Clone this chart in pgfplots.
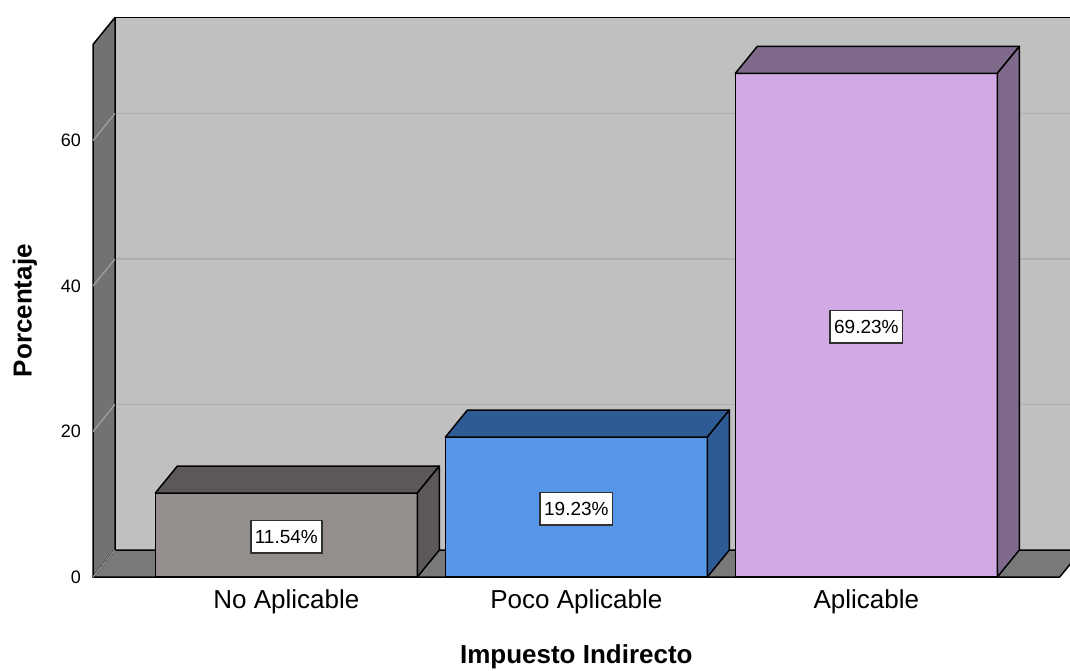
\documentclass[border=0pt]{standalone}
\usepackage{fontspec}
\setmainfont{Liberation Sans}
\usepackage{pgfplots}
\pgfplotsset{compat=1.18}

% wall and bar colours
\definecolor{backwall}{HTML}{C0C0C0}
\definecolor{leftwall}{HTML}{727272}
\definecolor{floorc}{HTML}{797979}
\definecolor{gridc}{HTML}{AEAEAE}
\definecolor{leftgrid}{HTML}{A2A2A2}
\definecolor{grayfront}{HTML}{948F8D}
\definecolor{graydark}{HTML}{5B5857}
\definecolor{bluefront}{HTML}{5597E6}
\definecolor{bluedark}{HTML}{2F5B94}
\definecolor{purpfront}{HTML}{D1A9E4}
\definecolor{purpdark}{HTML}{7F6A8C}
\definecolor{labelframe}{HTML}{303030}

% depth offset of the 3D box
\newcommand{\bk}[2]{([shift={(11pt,13.5pt)}]axis cs:#1,#2)}
\pgfdeclareplotmark{nothing}{}

\pgfplotsset{
  % top and right faces of a bar, drawn from the bar's value
  box3d/.style={
    only marks, scatter, mark=nothing,
    visualization depends on={rawy \as \barv},
    scatter/@pre marker code/.code={
      \pgfmathsetmacro\barh{\barv*3.6375}
      \filldraw[fill=#1, draw=black, line width=0.75pt, line join=round]
        (-65.5pt,0pt) -- (-54.5pt,13.5pt) -- (76.5pt,13.5pt) -- (65.5pt,0pt) -- cycle;
      \filldraw[fill=#1, draw=black, line width=0.75pt, line join=round]
        (65.5pt,0pt) -- (76.5pt,13.5pt) -- (76.5pt,13.5pt-\barh pt) -- (65.5pt,-\barh pt) -- cycle;
    },
    scatter/@post marker code/.code={},
  },
  % front face of a bar with its value label at half height
  front/.style={
    ybar, bar shift=0pt, bar width=0.9034,
    fill=#1, draw=black, line width=0.75pt,
    point meta=rawy,
    visualization depends on={rawy*1.81875+0.8 \as \halfh},
    nodes near coords={\pgfmathprintnumber[fixed,fixed zerofill,precision=2]{\pgfplotspointmeta}\%},
    every node near coord/.append style={anchor=center, yshift=-\halfh pt,
      fill=white, draw=labelframe, line width=0.8pt, inner xsep=2pt, inner ysep=4.8pt,
      text=black, font=\fontsize{9.5}{11}\selectfont},
  },
}

\begin{document}
\begin{tikzpicture}
\useasboundingbox (0,0) rectangle (535pt,335pt);
\clip (0,0) rectangle (535pt,335pt);
\begin{axis}[
  at={(46.5pt,46.5pt)}, anchor=south west,
  x=145pt, y=3.6375pt,
  xmin=-0.6667, xmax=2.6667, ymin=0, ymax=73.2,
  clip=false,
  axis line style={draw=none},
  major tick length=0pt,
  xtick={0,1,2},
  xticklabels={No Aplicable, Poco Aplicable, Aplicable},
  ytick={0,20,40,60},
  /pgf/number format/assume math mode=true,
  yticklabel style={font=\fontsize{9}{10}\selectfont, anchor=east, xshift=-2.5pt},
  xticklabel style={font=\fontsize{13}{15}\selectfont, anchor=north, yshift=-3pt},
  xlabel={Impuesto Indirecto},
  ylabel={Porcentaje},
  every axis x label/.style={at={([yshift=-40pt]axis description cs:0.5,0)}, anchor=center,
    font=\bfseries\fontsize{13}{15}\selectfont},
  every axis y label/.style={at={([xshift=-34pt]axis description cs:0,0.5)}, anchor=center, rotate=90,
    font=\bfseries\fontsize{13}{15}\selectfont},
]
% back wall with grid
\fill[backwall] \bk{-0.6667}{0} rectangle \bk{2.75}{73.2};
\draw[gridc, line width=0.6pt] \bk{-0.6667}{20} -- \bk{2.75}{20};
\draw[gridc, line width=0.6pt] \bk{-0.6667}{40} -- \bk{2.75}{40};
\draw[gridc, line width=0.6pt] \bk{-0.6667}{60} -- \bk{2.75}{60};
\draw[black, line width=0.75pt] \bk{-0.6667}{0} -- \bk{-0.6667}{73.2} -- \bk{2.75}{73.2};
% left wall
\filldraw[fill=leftwall, draw=black, line width=0.75pt, line join=round]
  (axis cs:-0.6667,0) -- (axis cs:-0.6667,73.2) -- \bk{-0.6667}{73.2} -- \bk{-0.6667}{0} -- cycle;
\draw[leftgrid, line width=0.6pt] (axis cs:-0.6667,20) -- \bk{-0.6667}{20};
\draw[leftgrid, line width=0.6pt] (axis cs:-0.6667,40) -- \bk{-0.6667}{40};
\draw[leftgrid, line width=0.6pt] (axis cs:-0.6667,60) -- \bk{-0.6667}{60};
% floor
\filldraw[fill=floorc, draw=black, line width=0.75pt, line join=round]
  (axis cs:-0.6667,0) -- (axis cs:2.6667,0) -- \bk{2.6667}{0} -- \bk{-0.6667}{0} -- cycle;
\draw[leftgrid, line width=0.6pt] (axis cs:-0.6667,0) -- \bk{-0.6667}{0};

% bars
\addplot[box3d=graydark] coordinates {(0,11.54)};
\addplot[front=grayfront] coordinates {(0,11.54)};
\addplot[box3d=bluedark] coordinates {(1,19.23)};
\addplot[front=bluefront] coordinates {(1,19.23)};
\addplot[box3d=purpdark] coordinates {(2,69.23)};
\addplot[front=purpfront] coordinates {(2,69.23)};
\end{axis}
\end{tikzpicture}
\end{document}
